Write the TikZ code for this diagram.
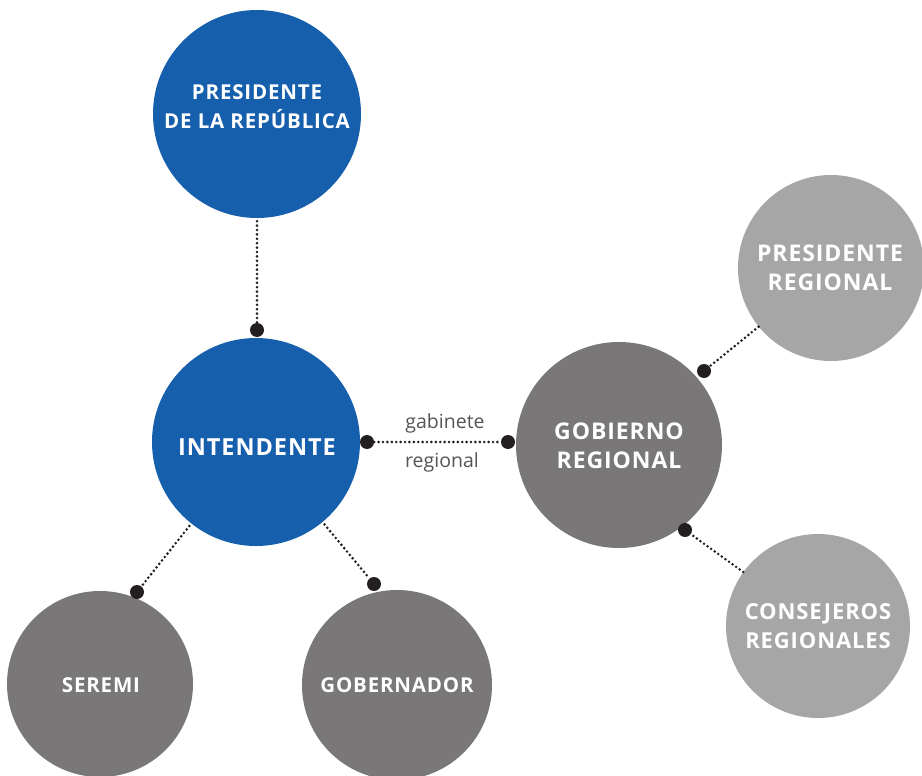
\documentclass[tikz,border=0pt]{standalone}
\usepackage{fontspec}
\setmainfont{Open Sans}
\newfontfamily\labfont[LetterSpace=4]{Open Sans Bold}
\newfontfamily\smallfont{Open Sans}
\definecolor{cblue}{HTML}{155FAD}
\definecolor{cdark}{HTML}{797777}
\definecolor{clight}{HTML}{A6A6A6}
\definecolor{cdot}{HTML}{231F20}
\definecolor{ctext}{HTML}{555555}
\begin{document}
\begin{tikzpicture}[x=1pt,y=-1pt,
  bubble/.style={circle,inner sep=0pt,text=white,align=center},
  lbl/.style={text=white,align=center,inner sep=0pt},
  dotnode/.style={circle,fill=cdot,inner sep=0pt,minimum size=14pt},
  conn/.style={draw=cdot,line width=2.9pt,line cap=round,dash pattern=on 0pt off 4.4pt,shorten <=3pt}
]
\useasboundingbox (0,0) rectangle (922,776);
\fill[white] (0,0) rectangle (922,776);
% circles
\node[bubble,fill=cblue,minimum size=208pt] (pres) at (257,114) {};
\node[bubble,fill=cblue,minimum size=208pt] (int) at (256,442) {};
\node[bubble,fill=cdark,minimum size=206pt] (gob) at (619,445) {};
\node[bubble,fill=clight,minimum size=186pt] (preg) at (831,268) {};
\node[bubble,fill=clight,minimum size=184pt] (cons) at (818,626) {};
\node[bubble,fill=cdark,minimum size=186pt] (ser) at (100,684) {};
\node[bubble,fill=cdark,minimum size=190pt] (gbn) at (397,685) {};
% labels
\node[lbl,font=\labfont\fontsize{20.5}{29}\selectfont] (tpres) at (257,107) {PRESIDENTE\\DE LA REPÚBLICA};
\node[lbl,font=\labfont\fontsize{23.5}{29}\selectfont] (tint) at (257,447) {INTENDENTE};
\node[lbl,font=\labfont\fontsize{23}{29}\selectfont] (tgob) at (619,446) {GOBIERNO\\REGIONAL};
\node[lbl,font=\labfont\fontsize{23}{29}\selectfont] (tpreg) at (830,268) {PRESIDENTE\\REGIONAL};
\node[lbl,font=\labfont\fontsize{22}{29}\selectfont] (tcons) at (818,626) {CONSEJEROS\\REGIONALES};
\node[lbl,font=\labfont\fontsize{20.5}{24}\selectfont] (tser) at (101,685) {SEREMI};
\node[lbl,font=\labfont\fontsize{20.5}{24}\selectfont] (tgbn) at (397,685) {GOBERNADOR};
% dots
\node[dotnode] (d1) at (257,330) {};
\node[dotnode] (d2) at (137,592) {};
\node[dotnode] (d3) at (374,584) {};
\node[dotnode] (d4) at (367,442) {};
\node[dotnode] (d5) at (508,442) {};
\node[dotnode] (d6) at (704,371) {};
\node[dotnode] (d7) at (685,530) {};
% connectors
\draw[conn] (pres) -- (d1);
\draw[conn] (int) -- (d2);
\draw[conn] (int) -- (d3);
\draw[conn,shorten <=0pt] (d4) -- (d5);
\draw[conn,shorten <=0pt] (preg) -- (d6);
\draw[conn,shorten <=0pt] (cons) -- (d7);
% middle label
\node[text=ctext,font=\smallfont\fontsize{19.5}{24}\selectfont,inner sep=0pt] (gab) at (445,423) {gabinete};
\node[text=ctext,font=\smallfont\fontsize{19.5}{24}\selectfont,inner sep=0pt] (reg) at (442,462) {regional};
\end{tikzpicture}
\end{document}
